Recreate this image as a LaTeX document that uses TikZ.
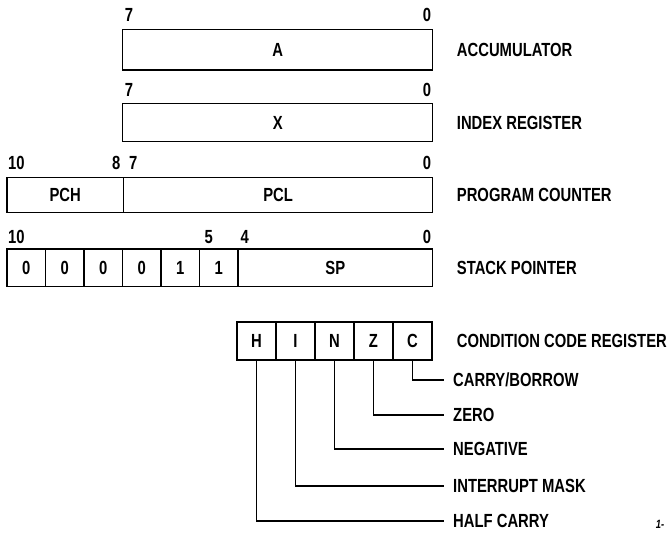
\documentclass[tikz,border=0pt]{standalone}
\usepackage{fontspec}
\setmainfont{Liberation Sans}[FakeStretch=0.78]
\usetikzlibrary{matrix, positioning}

\begin{document}
\begin{tikzpicture}[
		x=1pt, y=-1pt,
		font=\bfseries\fontsize{19}{22}\selectfont,
		every node/.append style={text height=13.6pt, text depth=0pt},
		% Register styles
		regbox/.style={draw, line width=1.3pt, inner sep=0pt, minimum width=310pt},
		bitvector/.style={matrix of nodes, line width=1.3pt, nodes={draw, anchor=center, inner sep=0pt}, column sep=-\pgflinewidth, inner sep=0pt},
		% Text styles
		bitno/.style={inner sep=0pt},
		regname/.style={anchor=west, inner sep=0pt},
		flagname/.style={anchor=west, inner sep=0pt},
		wire/.style={line width=1.3pt, shorten >=9pt}
		]
		\useasboundingbox (0,0) rectangle (668,532);
		
		% --- ACCUMULATOR ---
		\node[regbox, minimum height=40.7pt] (A) at (277.7,49.7) {A};
		\node[regname] (A_name) at (456.7,49.7) {ACCUMULATOR};
		\node[bitno, anchor=south west] (A_hi) at ([xshift=2.5pt, yshift=7pt]A.north west) {7};
		\node[bitno, anchor=south east] (A_lo) at ([xshift=-2pt, yshift=7pt]A.north east) {0};
		
		% --- INDEX REGISTER ---
		\node[regbox, minimum height=38pt] (X) at (277.7,122.7) {X};
		\node[regname] (X_name) at (456.7,123) {INDEX REGISTER};
		\node[bitno, anchor=south west] (X_hi) at ([xshift=2.5pt, yshift=6pt]X.north west) {7};
		\node[bitno, anchor=south east] (X_lo) at ([xshift=-2pt, yshift=6pt]X.north east) {0};
		
		% --- PROGRAM COUNTER ---
		\matrix (pc) [bitvector, nodes={minimum height=35pt}] at (219.85,194.8) {
			|[minimum width=116.5pt]| PCH & |[minimum width=309.2pt]| PCL \\
		};
		\node[regname] (pc_name) at (456.7,195) {PROGRAM COUNTER};
		\node[bitno, anchor=south west] (pc_10) at ([xshift=1.5pt, yshift=7pt]pc-1-1.north west) {10};
		\node[bitno, anchor=south east] (pc_8) at ([xshift=-3.5pt, yshift=7pt]pc-1-1.north east) {8};
		\node[bitno, anchor=south west] (pc_7) at ([xshift=6pt, yshift=7pt]pc-1-2.north west) {7};
		\node[bitno, anchor=south east] (pc_0) at ([xshift=-2pt, yshift=7pt]pc-1-2.north east) {0};
		
		% --- STACK POINTER ---
		\matrix (sp) [bitvector, nodes={minimum width=38.5pt, minimum height=37.5pt}] at (219.85,267.75) {
			0 & 0 & 0 & 0 & 1 & 1 & |[minimum width=194.7pt]| SP \\
		};
		\node[regname] (sp_name) at (456.7,268) {STACK POINTER};
		\node[bitno, anchor=south west] (sp_10) at ([xshift=1.5pt, yshift=4.5pt]sp-1-1.north west) {10};
		\node[bitno, anchor=south west] (sp_5) at ([xshift=5.5pt, yshift=4.5pt]sp-1-6.north west) {5};
		\node[bitno, anchor=south west] (sp_4) at ([xshift=3pt, yshift=4.5pt]sp-1-7.north west) {4};
		\node[bitno, anchor=south east] (sp_0) at ([xshift=-2pt, yshift=4.5pt]sp-1-7.north east) {0};
		
		% --- CONDITION CODE REGISTER ---
		\matrix (ccr) [bitvector, nodes={minimum width=39pt, minimum height=38pt}] at (334.5,341) {
			H & I & N & Z & C \\
		};
		\node[regname] (ccr_name) at (456.7,341) {CONDITION CODE REGISTER};
		
		% flag names
		\node[flagname] (carry) at (453,380) {CARRY/BORROW};
		\node[flagname] (zero) at (453,415) {ZERO};
		\node[flagname] (neg) at (453,449) {NEGATIVE};
		\node[flagname] (irq) at (453,486) {INTERRUPT MASK};
		\node[flagname] (half) at (453,521) {HALF CARRY};
		
		\draw[wire] (ccr-1-5.south) |- (carry.west);
		\draw[wire] (ccr-1-4.south) |- (zero.west);
		\draw[wire] (ccr-1-3.south) |- (neg.west);
		\draw[wire] (ccr-1-2.south) |- (irq.west);
		\draw[wire] (ccr-1-1.south) |- (half.west);
		
		\node[font=\itshape\bfseries\fontsize{12}{14}\selectfont, text height=8.5pt, inner sep=0pt] (fig_no) at (660,524) {1-};
		
	\end{tikzpicture}
\end{document}
